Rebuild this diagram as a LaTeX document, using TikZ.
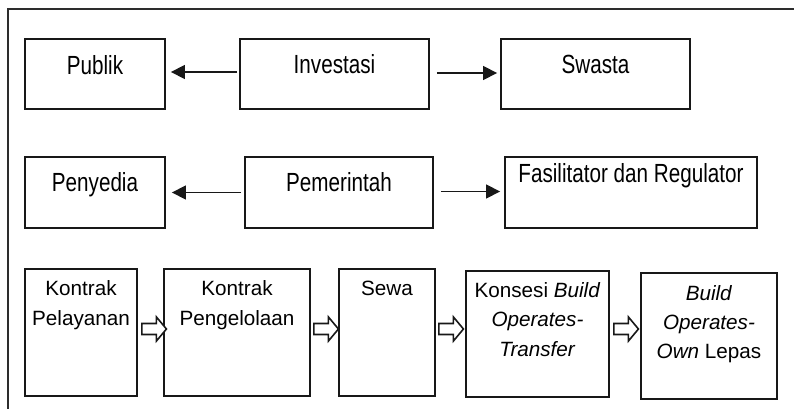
\documentclass[tikz,border=0pt]{standalone}
\usepackage{fontspec}
\usepackage{graphicx}
\setmainfont{Liberation Sans}
\usetikzlibrary{arrows.meta,calc,fit}
\definecolor{ink}{RGB}{24,24,24}
\definecolor{framegray}{RGB}{45,45,45}
% texts of the upper two rows are set slightly taller than wide
\newcommand\tallword[1]{\scalebox{1}[1.27]{#1}}
\begin{document}
\begin{tikzpicture}[x=0.75pt,y=-0.75pt,
  box/.style={draw=ink, line width=1.4pt, inner sep=0pt, fill=white},
  lbl/.style={inner sep=0pt, anchor=base, text=black, font=\fontsize{15.5}{22}\selectfont},
  link/.style={draw=ink, line width=1.2pt, -{Triangle[length=10.5pt,width=10.5pt]}},
  outline/.style={draw=framegray, line width=1.5pt},
  blockarrow/.pic={\draw[ink, line width=1.2pt, fill=white, line join=miter]
      (0,-5.5) -- (14.5,-5.5) -- (14.5,-12) -- (24.5,0) -- (14.5,12) -- (14.5,5.5) -- (0,5.5) -- cycle;}
]
\useasboundingbox (0,0) rectangle (794,409);
\clip (0,0) rectangle (794,409);

% open frame: only the top and left sides fall inside the page
\draw[outline] (8,430) -- (8,9) -- (820,9);

% row 1
\node[box, fit={(25,39) (165,109)}]  (pub) {};
\node[box, fit={(240,39) (429,109)}] (inv) {};
\node[box, fit={(501,39) (690,109)}] (swa) {};
\node[lbl] (tpub) at ($(pub.north)+(0,36)$) {\tallword{Publik}};
\node[lbl] (tinv) at ($(inv.north)+(0,35)$) {\tallword{Investasi}};
\node[lbl] (tswa) at ($(swa.north)+(0,35)$) {\tallword{Swasta}};
\draw[link] ($(inv.west)+(-2,-2)$) -- ($(pub.east)+(5,-2)$);
\draw[link] ($(inv.east)+(7,-1)$) -- ($(swa.west)+(-3,-1)$);

% row 2
\node[box, fit={(25,157) (165,228)}]  (pen) {};
\node[box, fit={(245,157) (433,228)}] (pem) {};
\node[box, fit={(505,157) (757,228)}] (fas) {};
\node[lbl] (tpen) at ($(pen.north)+(0,35)$) {\tallword{Penyedia}};
\node[lbl] (tpem) at ($(pem.north)+(0,35)$) {\tallword{Pemerintah}};
\node[lbl] (tfas) at ($(fas.north)+(0,26)$) {\tallword{Fasilitator dan Regulator}};
\draw[link] ($(pem.west)+(-3,0)$) -- ($(pen.east)+(6,0)$);
\draw[link] ($(pem.east)+(7,-1)$) -- ($(fas.west)+(-4,-1)$);

% row 3
\node[box, fit={(25,269) (137,396)}]  (kpl) {};
\node[box, fit={(164,269) (310,396)}] (kpg) {};
\node[box, fit={(339,269) (435,396)}] (sew) {};
\node[box, fit={(466,271) (609,397)}] (kon) {};
\node[box, fit={(641,273) (777,399)}] (boo) {};

\node[lbl] (kpl1) at ($(kpl.north)+(0,27)$)   {Kontrak};
\node[lbl] (kpl2) at ($(kpl.north)+(0,57)$)   {Pelayanan};
\node[lbl] (kpg1) at ($(kpg.north)+(0,27)$)   {Kontrak};
\node[lbl] (kpg2) at ($(kpg.north)+(0,57)$)   {Pengelolaan};
\node[lbl] (sew1) at ($(sew.north)+(0,27)$)   {Sewa};
\node[lbl] (kon1) at ($(kon.north)+(0,27)$)   {Konsesi \textit{Build}};
\node[lbl] (kon2) at ($(kon.north)+(0,56.5)$) {\textit{Operates-}};
\node[lbl] (kon3) at ($(kon.north)+(0,86)$)   {\textit{Transfer}};
\node[lbl] (boo1) at ($(boo.north)+(0,28)$)   {\textit{Build}};
\node[lbl] (boo2) at ($(boo.north)+(0,57)$)   {\textit{Operates-}};
\node[lbl] (boo3) at ($(boo.north)+(0,86)$)   {\textit{Own} Lepas};

% hollow block arrows between the stages
\coordinate (ymid) at (0,329);
\pic at ($(kpl.east|-ymid)+(4,0)$)   {blockarrow};
\pic at ($(kpg.east|-ymid)+(3,0)$)   {blockarrow};
\pic at ($(sew.east|-ymid)+(3,0)$)   {blockarrow};
\pic at ($(kon.east|-ymid)+(4,0)$)   {blockarrow};
\end{tikzpicture}
\end{document}
